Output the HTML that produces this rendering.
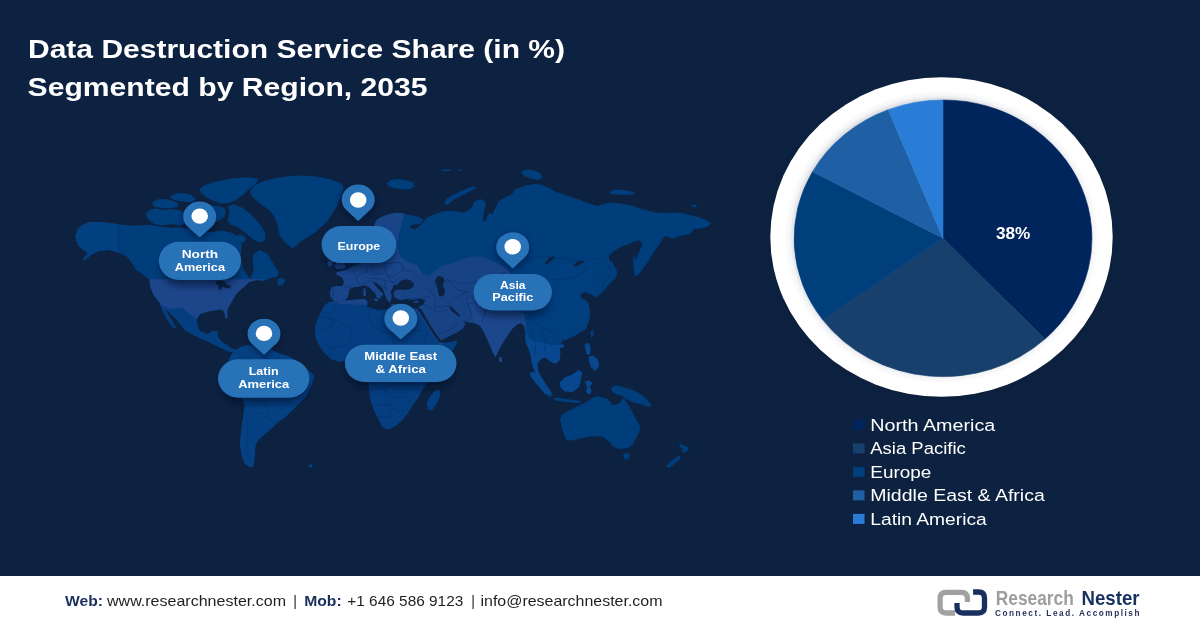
<!DOCTYPE html>
<html lang="en"><head><meta charset="utf-8">
<title>Data Destruction Service Share (in %) Segmented by Region, 2035</title>
<style>
html,body{margin:0;padding:0;}
body{width:1200px;height:628px;overflow:hidden;background:#0d2240;font-family:"Liberation Sans",sans-serif;}
svg{position:absolute;left:0;top:0;display:block}
text{font-family:"Liberation Sans",sans-serif;}
.ti{font-size:25.2px;font-weight:700;fill:#fff}
.pl{font-size:11.8px;font-weight:700;fill:#fff}
.lg{font-size:16.8px;fill:#fff}
.pc{font-size:16px;font-weight:700;fill:#fff}
.fb{font-size:14.1px;font-weight:700;fill:#1c2f5c}
.fr{font-size:14.1px;fill:#1f1f1f}
</style></head>
<body>
<svg width="1200" height="628" viewBox="0 0 1200 628">
<defs>
<clipPath id="land"><path d="M75.5,236.0 L77.5,229.5 L82.0,225.0 L88.0,222.5 L96.0,221.8 L110.0,223.0 L122.5,224.8 L135.0,225.8 L147.5,224.8 L158.8,226.3 L170.0,228.0 L180.0,227.5 L190.0,228.8 L200.0,231.3 L212.5,232.0 L222.5,230.5 L232.5,233.0 L238.8,238.0 L242.0,245.0 L240.5,257.5 L243.8,270.0 L250.0,278.8 L253.8,270.0 L252.5,260.0 L253.8,253.8 L260.0,250.0 L267.5,253.8 L272.5,262.5 L278.8,272.5 L277.0,277.0 L271.0,278.0 L264.0,281.0 L257.0,280.0 L249.0,282.0 L244.0,287.0 L238.0,292.0 L235.6,295.0 L230.6,303.6 L227.5,309.0 L227.3,318.5 L225.3,318.0 L224.2,311.5 L220.5,309.5 L210.5,311.0 L200.5,313.7 L197.0,318.7 L197.5,326.0 L200.0,331.0 L207.0,334.0 L213.0,331.0 L217.5,331.0 L217.8,337.0 L222.0,342.0 L227.0,345.0 L232.0,349.0 L236.0,350.0 L237.0,353.5 L230.0,351.8 L220.0,347.5 L207.5,341.5 L195.0,335.8 L185.0,330.5 L177.0,320.0 L168.7,312.0 L160.3,303.6 L153.6,295.3 L150.3,287.0 L149.5,279.4 L143.6,275.0 L136.0,270.0 L132.0,263.5 L127.0,256.8 L118.5,252.6 L108.5,250.0 L98.5,251.0 L91.0,255.0 L84.0,260.5 L83.0,258.5 L88.0,253.0 L85.0,251.0 L78.4,246.0 L76.0,240.0Z M160.0,304.0 L164.0,306.0 L168.0,314.0 L173.0,322.0 L176.0,328.0 L173.5,328.0 L168.0,321.0 L163.0,312.0Z M250.0,191.0 L254.0,186.0 L260.0,182.5 L270.0,179.5 L280.0,177.5 L290.0,176.0 L300.0,175.5 L312.0,176.0 L322.5,177.5 L332.0,180.0 L339.0,182.5 L343.5,185.5 L342.5,192.0 L339.5,199.0 L337.0,206.0 L332.0,214.0 L326.5,222.5 L320.0,228.0 L315.0,232.5 L308.0,237.0 L301.0,241.0 L296.0,246.0 L292.5,248.5 L288.0,245.0 L284.0,241.0 L280.0,236.0 L278.5,230.0 L277.0,223.0 L273.5,215.0 L268.0,209.0 L261.0,204.5 L255.0,199.5 L251.0,195.0Z M277.0,279.5 L282.0,277.5 L285.5,280.5 L283.0,285.0 L278.0,285.5Z M236.0,350.0 L241.0,347.0 L247.0,345.0 L255.0,345.5 L263.0,347.0 L272.0,350.0 L280.0,353.8 L288.0,356.0 L295.0,360.0 L303.0,366.0 L309.0,371.0 L313.8,375.5 L313.0,381.0 L311.0,386.0 L308.0,392.0 L305.0,397.5 L300.0,402.5 L292.5,410.0 L285.0,417.5 L278.0,422.0 L273.3,427.0 L268.5,431.0 L263.8,435.0 L258.3,439.8 L255.5,445.0 L255.0,452.0 L254.5,458.0 L254.0,463.0 L252.5,467.5 L248.0,466.0 L245.0,463.5 L242.5,458.0 L241.0,452.0 L240.0,442.5 L241.0,433.0 L242.0,425.0 L243.5,415.0 L244.5,405.0 L242.0,396.0 L237.0,388.0 L231.5,380.0 L228.0,372.0 L227.5,364.0 L230.0,357.0 L233.0,353.0Z M308.5,465.0 L312.0,464.5 L312.5,467.0 L309.0,467.5Z M325.0,305.0 L329.0,302.0 L336.5,301.5 L345.0,300.5 L355.0,299.8 L364.0,298.8 L367.5,301.0 L367.0,307.0 L373.0,309.0 L380.0,310.5 L387.0,309.0 L393.0,306.5 L400.0,306.0 L408.0,308.0 L417.0,308.8 L420.0,313.0 L424.0,320.0 L428.5,328.0 L432.5,335.0 L437.0,341.0 L443.0,343.0 L451.0,342.0 L457.0,340.5 L456.0,345.0 L451.5,352.0 L446.0,360.0 L441.0,368.0 L434.0,376.0 L428.0,382.0 L423.5,388.0 L421.0,392.0 L418.5,397.0 L415.0,401.5 L411.0,408.0 L407.0,414.0 L402.5,420.0 L395.0,426.0 L389.5,429.0 L385.0,428.8 L382.0,426.0 L380.0,422.0 L377.0,416.0 L373.8,410.0 L371.5,403.0 L370.0,397.5 L369.0,391.0 L368.8,385.0 L369.5,380.0 L367.5,374.0 L366.0,368.0 L365.5,363.0 L362.0,359.5 L355.0,359.0 L347.0,360.5 L339.0,361.5 L332.0,359.5 L326.0,354.5 L321.0,348.0 L317.0,341.0 L315.0,334.0 L315.5,326.0 L318.0,318.0 L321.5,311.0Z M428.0,409.0 L427.0,403.0 L429.5,397.0 L434.0,392.0 L438.5,389.5 L440.5,393.0 L438.5,400.0 L435.0,406.5 L431.5,410.5Z M372.0,233.0 L374.0,226.0 L376.0,220.7 L379.5,218.0 L383.9,216.0 L390.0,214.0 L396.6,212.8 L402.0,213.2 L407.8,214.4 L414.0,215.8 L420.5,217.5 L423.7,220.0 L421.0,223.5 L416.0,224.5 L411.0,225.0 L410.5,228.0 L414.5,229.5 L419.0,226.5 L423.0,222.5 L426.9,217.5 L434.0,214.5 L442.8,211.2 L449.0,211.0 L455.5,211.2 L460.0,212.2 L463.5,212.8 L468.0,210.5 L471.5,208.0 L473.2,204.5 L474.6,201.6 L478.0,199.8 L481.0,199.2 L484.0,200.8 L485.8,203.2 L484.8,208.5 L483.6,215.0 L482.6,220.7 L485.5,221.0 L487.4,215.5 L489.5,213.0 L492.2,214.4 L494.0,211.0 L495.4,208.0 L498.5,201.6 L504.0,198.0 L509.7,195.3 L513.0,193.3 L515.0,189.5 L520.0,187.5 L527.0,185.2 L535.0,183.8 L542.5,185.0 L548.0,187.5 L552.5,190.0 L557.0,192.5 L562.5,193.8 L571.0,197.0 L580.0,200.0 L589.0,203.5 L597.5,206.0 L604.0,204.0 L610.0,202.5 L620.0,203.5 L630.0,205.0 L642.0,209.0 L655.0,212.5 L668.0,213.0 L680.0,212.5 L690.0,215.0 L700.0,217.5 L706.0,220.0 L711.0,223.0 L708.5,226.0 L705.0,227.5 L700.0,228.5 L695.0,228.8 L692.0,231.5 L690.0,233.8 L685.0,235.2 L680.0,236.0 L676.0,237.8 L672.5,238.8 L668.5,237.0 L665.0,236.0 L663.0,238.5 L660.0,243.5 L655.0,250.0 L651.0,256.5 L647.5,262.5 L643.5,268.0 L640.0,272.5 L637.5,275.5 L635.3,276.5 L633.8,270.0 L634.5,264.0 L636.5,257.5 L639.5,251.5 L641.5,246.5 L642.0,243.0 L640.5,241.0 L638.5,240.5 L635.0,241.5 L630.0,243.8 L623.5,246.0 L617.5,248.8 L612.5,252.0 L608.8,256.0 L609.5,260.5 L612.0,262.0 L614.4,266.0 L616.5,270.0 L617.3,274.0 L615.0,279.0 L610.0,283.5 L606.0,288.0 L603.0,291.5 L599.0,295.0 L596.0,297.5 L593.5,296.0 L590.0,293.5 L585.0,292.0 L581.0,293.0 L580.0,296.0 L582.5,299.0 L586.0,300.5 L588.7,304.4 L589.5,309.5 L590.0,314.5 L589.0,320.0 L587.2,324.5 L586.0,329.0 L580.5,332.0 L575.0,335.5 L569.0,338.5 L562.5,340.5 L561.0,344.0 L560.0,349.0 L560.3,355.0 L559.5,360.0 L556.0,363.5 L552.0,362.5 L548.5,360.0 L545.5,357.5 L542.0,358.5 L539.0,361.0 L537.2,364.0 L537.8,369.0 L540.0,375.0 L543.0,379.5 L545.5,383.5 L543.5,384.5 L539.5,380.5 L536.0,374.5 L533.5,368.0 L531.5,361.5 L530.5,354.0 L528.0,347.5 L525.5,341.5 L525.0,333.0 L524.5,326.0 L520.5,323.0 L516.5,325.0 L512.5,328.5 L508.5,334.0 L504.5,340.0 L500.5,347.0 L497.5,353.0 L495.5,357.0 L493.0,353.0 L490.5,346.5 L487.5,340.0 L484.0,332.5 L480.5,326.0 L476.0,323.5 L470.0,322.5 L465.0,321.5 L460.5,319.0 L463.5,321.5 L465.5,324.0 L462.5,328.8 L457.5,332.0 L452.5,334.5 L447.5,337.0 L441.5,340.0 L436.5,341.8 L433.5,337.0 L430.5,331.0 L427.0,324.0 L423.5,316.5 L420.5,310.0 L418.8,306.5 L423.5,305.0 L425.4,300.0 L421.0,298.8 L414.0,299.5 L407.0,299.0 L400.0,299.8 L394.5,297.5 L393.5,293.0 L396.0,290.0 L400.0,289.5 L405.0,290.0 L410.0,289.3 L413.5,287.0 L414.0,283.5 L411.0,280.5 L406.5,279.3 L402.0,280.0 L399.0,282.5 L397.0,285.0 L393.5,285.0 L392.5,288.5 L390.5,291.5 L391.5,295.5 L391.0,299.5 L389.8,302.8 L387.5,300.0 L385.5,296.0 L384.0,292.0 L382.8,288.5 L380.0,285.5 L376.5,282.8 L373.3,281.8 L374.3,284.5 L377.3,287.8 L380.3,291.0 L383.3,294.3 L381.5,296.0 L379.5,298.8 L376.8,297.5 L375.5,293.8 L372.3,290.3 L369.0,287.3 L365.0,285.0 L361.0,286.0 L356.0,287.0 L352.0,287.5 L349.5,289.5 L348.5,293.5 L347.5,297.5 L344.0,300.5 L338.5,301.5 L333.5,300.5 L330.5,297.0 L330.0,291.0 L331.5,287.5 L337.0,286.0 L342.5,286.3 L344.0,282.0 L342.5,277.5 L336.5,274.5 L336.5,272.0 L342.0,271.0 L347.0,269.5 L351.5,267.0 L356.0,265.5 L361.0,263.5 L366.0,262.0 L369.5,256.0 L371.0,248.0 L371.5,240.0Z M334.5,266.0 L337.0,261.5 L336.0,256.5 L338.5,252.5 L342.5,254.0 L342.0,259.5 L345.0,263.5 L345.5,267.5 L341.0,269.0 L336.5,268.5Z M327.5,262.5 L330.5,260.0 L333.0,262.0 L332.0,266.0 L328.5,266.5Z M322.0,240.0 L327.0,237.5 L333.0,238.5 L335.0,242.0 L330.0,245.0 L324.0,244.5Z M387.0,183.0 L391.0,180.0 L398.0,179.0 L406.0,180.0 L413.0,182.5 L415.0,186.5 L409.0,189.5 L401.0,189.0 L393.0,188.0 L388.0,186.0Z M440.0,170.0 L446.0,169.2 L452.0,169.5 L450.0,171.0 L443.0,171.3Z M456.0,169.6 L462.0,170.0 L460.0,171.2Z M444.0,203.0 L447.0,198.5 L453.0,195.0 L460.0,191.5 L467.0,188.5 L474.0,186.0 L476.5,187.5 L471.0,191.0 L464.0,194.5 L457.0,198.0 L451.0,202.0 L447.0,205.0Z M521.0,172.0 L526.0,169.5 L533.0,170.0 L540.0,173.0 L542.5,177.5 L538.0,180.0 L531.0,178.5 L524.0,176.0Z M609.0,192.0 L615.0,189.5 L624.0,190.0 L632.0,191.5 L635.5,194.0 L628.0,195.0 L618.0,194.5 L611.0,194.0Z M690.0,205.5 L694.0,204.5 L698.0,206.0 L694.0,207.5Z M633.0,257.0 L635.0,256.5 L636.0,263.0 L636.5,270.0 L637.0,276.0 L635.0,276.5 L633.5,268.0Z M590.5,331.5 L593.0,330.0 L593.5,335.0 L591.5,338.0Z M560.0,345.0 L563.5,344.0 L564.0,347.5 L560.5,348.0Z M499.0,357.0 L501.5,357.5 L502.0,361.5 L499.5,362.0Z M530.0,372.5 L534.0,372.0 L539.0,377.0 L544.5,383.0 L549.5,389.0 L552.5,395.0 L550.0,397.5 L545.0,394.0 L540.0,388.0 L535.0,382.0 L531.0,377.0Z M553.0,398.0 L560.0,398.0 L568.0,399.3 L575.0,400.3 L580.5,401.0 L580.5,403.0 L573.0,402.8 L564.0,401.8 L555.0,400.5Z M559.8,382.5 L564.6,377.8 L572.5,374.6 L578.9,369.8 L582.1,373.0 L580.5,381.0 L578.9,387.3 L572.5,392.1 L564.6,391.3 L560.6,387.3Z M585.0,381.5 L589.5,380.5 L592.5,383.5 L589.5,386.0 L591.5,391.0 L589.5,395.0 L586.5,392.0 L587.0,387.0Z M584.5,344.0 L588.5,342.5 L590.5,348.0 L590.0,355.0 L586.5,354.0Z M588.5,357.0 L593.0,355.5 L598.0,360.0 L599.0,366.5 L595.0,371.0 L591.0,367.0 L589.5,362.0Z M611.0,388.0 L615.5,385.5 L621.0,386.5 L627.0,388.0 L633.0,390.0 L639.0,393.0 L645.0,397.5 L650.0,403.0 L651.5,406.5 L646.5,406.5 L640.0,404.0 L634.5,403.0 L629.0,400.5 L623.0,396.3 L617.0,394.5 L612.5,392.3Z M560.0,420.0 L561.5,415.5 L567.0,411.5 L575.0,407.5 L581.5,404.5 L587.5,401.3 L593.0,397.5 L597.5,396.2 L603.0,397.5 L607.5,398.8 L610.0,402.0 L612.5,405.0 L617.0,404.5 L620.5,402.5 L622.8,398.5 L624.3,398.0 L626.5,402.0 L630.0,407.5 L633.5,414.0 L636.3,420.0 L640.0,426.3 L639.5,432.0 L637.5,435.0 L635.0,440.0 L632.5,445.0 L628.0,448.0 L622.5,448.8 L617.5,448.8 L612.5,446.0 L610.0,442.5 L606.0,439.5 L603.8,437.5 L600.0,436.5 L597.5,436.3 L590.0,436.5 L585.0,437.5 L580.0,438.5 L575.0,440.0 L570.0,440.5 L566.3,440.0 L565.0,437.0 L563.8,433.8 L562.5,430.0 L561.3,425.0Z M623.5,453.8 L627.0,453.0 L630.0,455.0 L628.5,459.0 L625.0,459.5 L623.5,457.0Z M679.0,443.0 L681.5,444.5 L684.5,445.5 L689.0,447.5 L687.5,450.5 L685.0,453.0 L682.0,452.0 L682.5,449.0 L680.0,446.5Z M666.5,466.0 L670.0,462.0 L674.0,459.0 L678.5,455.5 L681.0,456.5 L679.0,460.0 L675.0,463.5 L671.0,466.5 L668.0,468.0Z M146.0,214.0 L149.0,210.0 L156.0,208.5 L164.0,210.0 L172.0,209.0 L180.0,210.5 L187.0,213.0 L190.0,218.0 L187.0,223.0 L180.0,225.5 L172.0,224.0 L163.0,225.5 L154.0,224.0 L148.0,219.5Z M152.0,203.0 L157.0,199.5 L165.0,199.0 L172.0,200.5 L178.0,203.0 L177.0,207.0 L170.0,208.5 L161.0,208.0 L154.0,206.5Z M170.0,196.5 L176.0,193.5 L184.0,193.0 L191.0,195.0 L196.0,198.5 L193.0,202.0 L186.0,202.0 L179.0,201.0 L173.0,199.5Z M199.6,189.0 L205.0,185.0 L215.6,181.7 L231.7,178.4 L247.7,177.3 L258.4,179.0 L256.0,184.0 L248.5,189.5 L243.0,195.0 L236.0,200.0 L229.0,203.0 L221.0,203.5 L213.0,200.5 L206.0,197.0 L201.0,193.0Z M193.0,206.5 L200.0,203.5 L208.0,204.0 L215.0,206.0 L222.0,207.0 L226.0,210.5 L224.5,216.5 L219.0,221.0 L211.0,222.5 L203.0,221.0 L196.0,217.0 L192.5,211.5Z M228.0,206.0 L234.0,204.5 L242.0,207.5 L249.0,212.5 L255.0,218.5 L261.0,225.5 L265.0,233.0 L265.5,239.5 L261.0,242.5 L255.0,240.5 L249.0,236.0 L243.0,231.0 L237.0,227.0 L231.5,225.0 L227.5,220.5 L229.5,213.0Z M236.0,236.0 L241.5,234.5 L246.0,238.0 L244.0,242.5 L238.0,242.5Z M374.5,298.5 L378.0,299.0 L377.5,301.5 L374.5,300.6Z M363.3,288.5 L365.5,288.5 L366.0,296.0 L363.5,296.0Z M391.0,304.0 L396.0,304.0 L396.0,305.3 L391.0,305.3Z M414.0,301.5 L418.0,300.5 L418.0,302.5 L414.5,303.0Z"/></clipPath>
<linearGradient id="usg" x1="0" y1="279" x2="0" y2="322" gradientUnits="userSpaceOnUse">
<stop offset="0" stop-color="#3567b1"/><stop offset="0.45" stop-color="#24599f"/><stop offset="1" stop-color="#1a529c"/></linearGradient>
<radialGradient id="ring" cx="0.5" cy="0.5" r="0.5">
<stop offset="0.86" stop-color="#d9dce2"/><stop offset="0.885" stop-color="#f4f5f7"/><stop offset="0.92" stop-color="#ffffff"/><stop offset="1" stop-color="#ffffff"/></radialGradient>
<filter id="psh" x="-30%" y="-30%" width="160%" height="190%"><feGaussianBlur stdDeviation="3.2"/></filter>
<filter id="sh" x="-10%" y="-10%" width="120%" height="120%"><feGaussianBlur stdDeviation="3"/></filter>
</defs>
<rect width="1200" height="628" fill="#0d2240"/>

<!-- world map -->
<g>
<path d="M75.5,236.0 L77.5,229.5 L82.0,225.0 L88.0,222.5 L96.0,221.8 L110.0,223.0 L122.5,224.8 L135.0,225.8 L147.5,224.8 L158.8,226.3 L170.0,228.0 L180.0,227.5 L190.0,228.8 L200.0,231.3 L212.5,232.0 L222.5,230.5 L232.5,233.0 L238.8,238.0 L242.0,245.0 L240.5,257.5 L243.8,270.0 L250.0,278.8 L253.8,270.0 L252.5,260.0 L253.8,253.8 L260.0,250.0 L267.5,253.8 L272.5,262.5 L278.8,272.5 L277.0,277.0 L271.0,278.0 L264.0,281.0 L257.0,280.0 L249.0,282.0 L244.0,287.0 L238.0,292.0 L235.6,295.0 L230.6,303.6 L227.5,309.0 L227.3,318.5 L225.3,318.0 L224.2,311.5 L220.5,309.5 L210.5,311.0 L200.5,313.7 L197.0,318.7 L197.5,326.0 L200.0,331.0 L207.0,334.0 L213.0,331.0 L217.5,331.0 L217.8,337.0 L222.0,342.0 L227.0,345.0 L232.0,349.0 L236.0,350.0 L237.0,353.5 L230.0,351.8 L220.0,347.5 L207.5,341.5 L195.0,335.8 L185.0,330.5 L177.0,320.0 L168.7,312.0 L160.3,303.6 L153.6,295.3 L150.3,287.0 L149.5,279.4 L143.6,275.0 L136.0,270.0 L132.0,263.5 L127.0,256.8 L118.5,252.6 L108.5,250.0 L98.5,251.0 L91.0,255.0 L84.0,260.5 L83.0,258.5 L88.0,253.0 L85.0,251.0 L78.4,246.0 L76.0,240.0Z M160.0,304.0 L164.0,306.0 L168.0,314.0 L173.0,322.0 L176.0,328.0 L173.5,328.0 L168.0,321.0 L163.0,312.0Z M250.0,191.0 L254.0,186.0 L260.0,182.5 L270.0,179.5 L280.0,177.5 L290.0,176.0 L300.0,175.5 L312.0,176.0 L322.5,177.5 L332.0,180.0 L339.0,182.5 L343.5,185.5 L342.5,192.0 L339.5,199.0 L337.0,206.0 L332.0,214.0 L326.5,222.5 L320.0,228.0 L315.0,232.5 L308.0,237.0 L301.0,241.0 L296.0,246.0 L292.5,248.5 L288.0,245.0 L284.0,241.0 L280.0,236.0 L278.5,230.0 L277.0,223.0 L273.5,215.0 L268.0,209.0 L261.0,204.5 L255.0,199.5 L251.0,195.0Z M277.0,279.5 L282.0,277.5 L285.5,280.5 L283.0,285.0 L278.0,285.5Z M236.0,350.0 L241.0,347.0 L247.0,345.0 L255.0,345.5 L263.0,347.0 L272.0,350.0 L280.0,353.8 L288.0,356.0 L295.0,360.0 L303.0,366.0 L309.0,371.0 L313.8,375.5 L313.0,381.0 L311.0,386.0 L308.0,392.0 L305.0,397.5 L300.0,402.5 L292.5,410.0 L285.0,417.5 L278.0,422.0 L273.3,427.0 L268.5,431.0 L263.8,435.0 L258.3,439.8 L255.5,445.0 L255.0,452.0 L254.5,458.0 L254.0,463.0 L252.5,467.5 L248.0,466.0 L245.0,463.5 L242.5,458.0 L241.0,452.0 L240.0,442.5 L241.0,433.0 L242.0,425.0 L243.5,415.0 L244.5,405.0 L242.0,396.0 L237.0,388.0 L231.5,380.0 L228.0,372.0 L227.5,364.0 L230.0,357.0 L233.0,353.0Z M308.5,465.0 L312.0,464.5 L312.5,467.0 L309.0,467.5Z M325.0,305.0 L329.0,302.0 L336.5,301.5 L345.0,300.5 L355.0,299.8 L364.0,298.8 L367.5,301.0 L367.0,307.0 L373.0,309.0 L380.0,310.5 L387.0,309.0 L393.0,306.5 L400.0,306.0 L408.0,308.0 L417.0,308.8 L420.0,313.0 L424.0,320.0 L428.5,328.0 L432.5,335.0 L437.0,341.0 L443.0,343.0 L451.0,342.0 L457.0,340.5 L456.0,345.0 L451.5,352.0 L446.0,360.0 L441.0,368.0 L434.0,376.0 L428.0,382.0 L423.5,388.0 L421.0,392.0 L418.5,397.0 L415.0,401.5 L411.0,408.0 L407.0,414.0 L402.5,420.0 L395.0,426.0 L389.5,429.0 L385.0,428.8 L382.0,426.0 L380.0,422.0 L377.0,416.0 L373.8,410.0 L371.5,403.0 L370.0,397.5 L369.0,391.0 L368.8,385.0 L369.5,380.0 L367.5,374.0 L366.0,368.0 L365.5,363.0 L362.0,359.5 L355.0,359.0 L347.0,360.5 L339.0,361.5 L332.0,359.5 L326.0,354.5 L321.0,348.0 L317.0,341.0 L315.0,334.0 L315.5,326.0 L318.0,318.0 L321.5,311.0Z M428.0,409.0 L427.0,403.0 L429.5,397.0 L434.0,392.0 L438.5,389.5 L440.5,393.0 L438.5,400.0 L435.0,406.5 L431.5,410.5Z M372.0,233.0 L374.0,226.0 L376.0,220.7 L379.5,218.0 L383.9,216.0 L390.0,214.0 L396.6,212.8 L402.0,213.2 L407.8,214.4 L414.0,215.8 L420.5,217.5 L423.7,220.0 L421.0,223.5 L416.0,224.5 L411.0,225.0 L410.5,228.0 L414.5,229.5 L419.0,226.5 L423.0,222.5 L426.9,217.5 L434.0,214.5 L442.8,211.2 L449.0,211.0 L455.5,211.2 L460.0,212.2 L463.5,212.8 L468.0,210.5 L471.5,208.0 L473.2,204.5 L474.6,201.6 L478.0,199.8 L481.0,199.2 L484.0,200.8 L485.8,203.2 L484.8,208.5 L483.6,215.0 L482.6,220.7 L485.5,221.0 L487.4,215.5 L489.5,213.0 L492.2,214.4 L494.0,211.0 L495.4,208.0 L498.5,201.6 L504.0,198.0 L509.7,195.3 L513.0,193.3 L515.0,189.5 L520.0,187.5 L527.0,185.2 L535.0,183.8 L542.5,185.0 L548.0,187.5 L552.5,190.0 L557.0,192.5 L562.5,193.8 L571.0,197.0 L580.0,200.0 L589.0,203.5 L597.5,206.0 L604.0,204.0 L610.0,202.5 L620.0,203.5 L630.0,205.0 L642.0,209.0 L655.0,212.5 L668.0,213.0 L680.0,212.5 L690.0,215.0 L700.0,217.5 L706.0,220.0 L711.0,223.0 L708.5,226.0 L705.0,227.5 L700.0,228.5 L695.0,228.8 L692.0,231.5 L690.0,233.8 L685.0,235.2 L680.0,236.0 L676.0,237.8 L672.5,238.8 L668.5,237.0 L665.0,236.0 L663.0,238.5 L660.0,243.5 L655.0,250.0 L651.0,256.5 L647.5,262.5 L643.5,268.0 L640.0,272.5 L637.5,275.5 L635.3,276.5 L633.8,270.0 L634.5,264.0 L636.5,257.5 L639.5,251.5 L641.5,246.5 L642.0,243.0 L640.5,241.0 L638.5,240.5 L635.0,241.5 L630.0,243.8 L623.5,246.0 L617.5,248.8 L612.5,252.0 L608.8,256.0 L609.5,260.5 L612.0,262.0 L614.4,266.0 L616.5,270.0 L617.3,274.0 L615.0,279.0 L610.0,283.5 L606.0,288.0 L603.0,291.5 L599.0,295.0 L596.0,297.5 L593.5,296.0 L590.0,293.5 L585.0,292.0 L581.0,293.0 L580.0,296.0 L582.5,299.0 L586.0,300.5 L588.7,304.4 L589.5,309.5 L590.0,314.5 L589.0,320.0 L587.2,324.5 L586.0,329.0 L580.5,332.0 L575.0,335.5 L569.0,338.5 L562.5,340.5 L561.0,344.0 L560.0,349.0 L560.3,355.0 L559.5,360.0 L556.0,363.5 L552.0,362.5 L548.5,360.0 L545.5,357.5 L542.0,358.5 L539.0,361.0 L537.2,364.0 L537.8,369.0 L540.0,375.0 L543.0,379.5 L545.5,383.5 L543.5,384.5 L539.5,380.5 L536.0,374.5 L533.5,368.0 L531.5,361.5 L530.5,354.0 L528.0,347.5 L525.5,341.5 L525.0,333.0 L524.5,326.0 L520.5,323.0 L516.5,325.0 L512.5,328.5 L508.5,334.0 L504.5,340.0 L500.5,347.0 L497.5,353.0 L495.5,357.0 L493.0,353.0 L490.5,346.5 L487.5,340.0 L484.0,332.5 L480.5,326.0 L476.0,323.5 L470.0,322.5 L465.0,321.5 L460.5,319.0 L463.5,321.5 L465.5,324.0 L462.5,328.8 L457.5,332.0 L452.5,334.5 L447.5,337.0 L441.5,340.0 L436.5,341.8 L433.5,337.0 L430.5,331.0 L427.0,324.0 L423.5,316.5 L420.5,310.0 L418.8,306.5 L423.5,305.0 L425.4,300.0 L421.0,298.8 L414.0,299.5 L407.0,299.0 L400.0,299.8 L394.5,297.5 L393.5,293.0 L396.0,290.0 L400.0,289.5 L405.0,290.0 L410.0,289.3 L413.5,287.0 L414.0,283.5 L411.0,280.5 L406.5,279.3 L402.0,280.0 L399.0,282.5 L397.0,285.0 L393.5,285.0 L392.5,288.5 L390.5,291.5 L391.5,295.5 L391.0,299.5 L389.8,302.8 L387.5,300.0 L385.5,296.0 L384.0,292.0 L382.8,288.5 L380.0,285.5 L376.5,282.8 L373.3,281.8 L374.3,284.5 L377.3,287.8 L380.3,291.0 L383.3,294.3 L381.5,296.0 L379.5,298.8 L376.8,297.5 L375.5,293.8 L372.3,290.3 L369.0,287.3 L365.0,285.0 L361.0,286.0 L356.0,287.0 L352.0,287.5 L349.5,289.5 L348.5,293.5 L347.5,297.5 L344.0,300.5 L338.5,301.5 L333.5,300.5 L330.5,297.0 L330.0,291.0 L331.5,287.5 L337.0,286.0 L342.5,286.3 L344.0,282.0 L342.5,277.5 L336.5,274.5 L336.5,272.0 L342.0,271.0 L347.0,269.5 L351.5,267.0 L356.0,265.5 L361.0,263.5 L366.0,262.0 L369.5,256.0 L371.0,248.0 L371.5,240.0Z M334.5,266.0 L337.0,261.5 L336.0,256.5 L338.5,252.5 L342.5,254.0 L342.0,259.5 L345.0,263.5 L345.5,267.5 L341.0,269.0 L336.5,268.5Z M327.5,262.5 L330.5,260.0 L333.0,262.0 L332.0,266.0 L328.5,266.5Z M322.0,240.0 L327.0,237.5 L333.0,238.5 L335.0,242.0 L330.0,245.0 L324.0,244.5Z M387.0,183.0 L391.0,180.0 L398.0,179.0 L406.0,180.0 L413.0,182.5 L415.0,186.5 L409.0,189.5 L401.0,189.0 L393.0,188.0 L388.0,186.0Z M440.0,170.0 L446.0,169.2 L452.0,169.5 L450.0,171.0 L443.0,171.3Z M456.0,169.6 L462.0,170.0 L460.0,171.2Z M444.0,203.0 L447.0,198.5 L453.0,195.0 L460.0,191.5 L467.0,188.5 L474.0,186.0 L476.5,187.5 L471.0,191.0 L464.0,194.5 L457.0,198.0 L451.0,202.0 L447.0,205.0Z M521.0,172.0 L526.0,169.5 L533.0,170.0 L540.0,173.0 L542.5,177.5 L538.0,180.0 L531.0,178.5 L524.0,176.0Z M609.0,192.0 L615.0,189.5 L624.0,190.0 L632.0,191.5 L635.5,194.0 L628.0,195.0 L618.0,194.5 L611.0,194.0Z M690.0,205.5 L694.0,204.5 L698.0,206.0 L694.0,207.5Z M633.0,257.0 L635.0,256.5 L636.0,263.0 L636.5,270.0 L637.0,276.0 L635.0,276.5 L633.5,268.0Z M590.5,331.5 L593.0,330.0 L593.5,335.0 L591.5,338.0Z M560.0,345.0 L563.5,344.0 L564.0,347.5 L560.5,348.0Z M499.0,357.0 L501.5,357.5 L502.0,361.5 L499.5,362.0Z M530.0,372.5 L534.0,372.0 L539.0,377.0 L544.5,383.0 L549.5,389.0 L552.5,395.0 L550.0,397.5 L545.0,394.0 L540.0,388.0 L535.0,382.0 L531.0,377.0Z M553.0,398.0 L560.0,398.0 L568.0,399.3 L575.0,400.3 L580.5,401.0 L580.5,403.0 L573.0,402.8 L564.0,401.8 L555.0,400.5Z M559.8,382.5 L564.6,377.8 L572.5,374.6 L578.9,369.8 L582.1,373.0 L580.5,381.0 L578.9,387.3 L572.5,392.1 L564.6,391.3 L560.6,387.3Z M585.0,381.5 L589.5,380.5 L592.5,383.5 L589.5,386.0 L591.5,391.0 L589.5,395.0 L586.5,392.0 L587.0,387.0Z M584.5,344.0 L588.5,342.5 L590.5,348.0 L590.0,355.0 L586.5,354.0Z M588.5,357.0 L593.0,355.5 L598.0,360.0 L599.0,366.5 L595.0,371.0 L591.0,367.0 L589.5,362.0Z M611.0,388.0 L615.5,385.5 L621.0,386.5 L627.0,388.0 L633.0,390.0 L639.0,393.0 L645.0,397.5 L650.0,403.0 L651.5,406.5 L646.5,406.5 L640.0,404.0 L634.5,403.0 L629.0,400.5 L623.0,396.3 L617.0,394.5 L612.5,392.3Z M560.0,420.0 L561.5,415.5 L567.0,411.5 L575.0,407.5 L581.5,404.5 L587.5,401.3 L593.0,397.5 L597.5,396.2 L603.0,397.5 L607.5,398.8 L610.0,402.0 L612.5,405.0 L617.0,404.5 L620.5,402.5 L622.8,398.5 L624.3,398.0 L626.5,402.0 L630.0,407.5 L633.5,414.0 L636.3,420.0 L640.0,426.3 L639.5,432.0 L637.5,435.0 L635.0,440.0 L632.5,445.0 L628.0,448.0 L622.5,448.8 L617.5,448.8 L612.5,446.0 L610.0,442.5 L606.0,439.5 L603.8,437.5 L600.0,436.5 L597.5,436.3 L590.0,436.5 L585.0,437.5 L580.0,438.5 L575.0,440.0 L570.0,440.5 L566.3,440.0 L565.0,437.0 L563.8,433.8 L562.5,430.0 L561.3,425.0Z M623.5,453.8 L627.0,453.0 L630.0,455.0 L628.5,459.0 L625.0,459.5 L623.5,457.0Z M679.0,443.0 L681.5,444.5 L684.5,445.5 L689.0,447.5 L687.5,450.5 L685.0,453.0 L682.0,452.0 L682.5,449.0 L680.0,446.5Z M666.5,466.0 L670.0,462.0 L674.0,459.0 L678.5,455.5 L681.0,456.5 L679.0,460.0 L675.0,463.5 L671.0,466.5 L668.0,468.0Z M146.0,214.0 L149.0,210.0 L156.0,208.5 L164.0,210.0 L172.0,209.0 L180.0,210.5 L187.0,213.0 L190.0,218.0 L187.0,223.0 L180.0,225.5 L172.0,224.0 L163.0,225.5 L154.0,224.0 L148.0,219.5Z M152.0,203.0 L157.0,199.5 L165.0,199.0 L172.0,200.5 L178.0,203.0 L177.0,207.0 L170.0,208.5 L161.0,208.0 L154.0,206.5Z M170.0,196.5 L176.0,193.5 L184.0,193.0 L191.0,195.0 L196.0,198.5 L193.0,202.0 L186.0,202.0 L179.0,201.0 L173.0,199.5Z M199.6,189.0 L205.0,185.0 L215.6,181.7 L231.7,178.4 L247.7,177.3 L258.4,179.0 L256.0,184.0 L248.5,189.5 L243.0,195.0 L236.0,200.0 L229.0,203.0 L221.0,203.5 L213.0,200.5 L206.0,197.0 L201.0,193.0Z M193.0,206.5 L200.0,203.5 L208.0,204.0 L215.0,206.0 L222.0,207.0 L226.0,210.5 L224.5,216.5 L219.0,221.0 L211.0,222.5 L203.0,221.0 L196.0,217.0 L192.5,211.5Z M228.0,206.0 L234.0,204.5 L242.0,207.5 L249.0,212.5 L255.0,218.5 L261.0,225.5 L265.0,233.0 L265.5,239.5 L261.0,242.5 L255.0,240.5 L249.0,236.0 L243.0,231.0 L237.0,227.0 L231.5,225.0 L227.5,220.5 L229.5,213.0Z M236.0,236.0 L241.5,234.5 L246.0,238.0 L244.0,242.5 L238.0,242.5Z M374.5,298.5 L378.0,299.0 L377.5,301.5 L374.5,300.6Z M363.3,288.5 L365.5,288.5 L366.0,296.0 L363.5,296.0Z M391.0,304.0 L396.0,304.0 L396.0,305.3 L391.0,305.3Z M414.0,301.5 L418.0,300.5 L418.0,302.5 L414.5,303.0Z" fill="#003d7b"/>
<g clip-path="url(#land)">
<path d="M60.0,200.0 L118.3,200.0 L118.3,270.0 L60.0,270.0Z" fill="#02407f"/>
<path d="M140.0,279.2 L214.0,279.2 L232.0,279.2 L262.0,279.2 L262.0,300.0 L236.0,322.0 L203.0,322.0 L194.6,317.8 L186.0,311.4 L182.0,308.0 L170.0,309.0 L160.0,305.0 L140.0,300.0Z" fill="#1d4589"/>
<path d="M150.0,300.0 L170.0,309.0 L182.0,308.0 L186.0,311.4 L194.6,317.8 L203.0,322.0 L236.0,322.0 L262.0,300.0 L262.0,352.0 L150.0,352.0Z" fill="#053e7f"/>
<path d="M220.0,340.0 L330.0,340.0 L330.0,480.0 L220.0,480.0Z" fill="#054182"/>
<path d="M300.0,296.0 L470.0,296.0 L470.0,440.0 L300.0,440.0Z" fill="#043e80"/>
<path d="M346.0,205.0 L395.0,205.0 L405.0,211.0 L402.0,222.0 L399.5,232.0 L397.0,245.0 L400.0,256.0 L408.0,262.0 L417.0,265.0 L422.0,273.0 L420.5,279.0 L412.0,277.0 L400.0,277.0 L392.0,284.0 L392.0,300.0 L395.0,306.0 L340.0,304.0 L318.0,300.0 L318.0,250.0 L346.0,250.0Z" fill="#1a4488"/>
<path d="M420.5,279.0 L422.0,273.0 L428.0,276.0 L433.4,271.8 L443.5,265.0 L456.9,261.7 L466.9,257.6 L480.3,255.9 L490.3,260.0 L500.3,265.0 L507.0,268.4 L512.0,276.0 L516.0,286.0 L522.0,297.0 L520.0,300.0 L500.0,310.0 L470.0,330.0 L440.0,345.0 L415.0,310.0 L392.0,300.0 L392.0,284.0 L400.0,277.0 L412.0,277.0Z" fill="#174385"/>
<path d="M468.0,300.0 L520.0,300.0 L524.0,312.0 L526.0,322.0 L526.0,330.0 L500.0,365.0 L480.0,340.0Z" fill="#1c478c"/>
<path d="M507.0,268.4 L540.0,266.0 L590.0,262.0 L600.0,300.0 L620.0,310.0 L600.0,345.0 L555.0,345.0 L530.0,340.0 L526.0,330.0 L526.0,322.0 L524.0,312.0 L522.0,297.0 L516.0,286.0 L512.0,276.0Z" fill="#003e7d"/>
<path d="M526.0,330.0 L530.0,340.0 L555.0,345.0 L600.0,345.0 L600.0,394.0 L520.0,394.0Z" fill="#08468d"/>
<path d="M338.0,302.0 L334.0,310.0 L328.0,314.0 M318.0,318.0 L332.0,318.0 L332.0,326.0 M332.0,318.0 L345.0,326.0 L352.0,330.0 M368.0,308.0 L370.0,320.0 L375.0,328.0 M400.0,306.0 L400.0,330.0 M400.0,330.0 L428.0,330.0 M375.0,328.0 L388.0,334.0 L400.0,330.0 M352.0,330.0 L352.0,342.0 L345.0,345.0 M352.0,346.0 L375.0,347.0 M392.0,334.0 L394.0,352.0 M428.0,330.0 L424.0,345.0 L430.0,356.0 M332.0,326.0 L320.0,330.0 M345.0,345.0 L334.0,348.0 L330.0,356.0 M334.0,348.0 L322.0,343.0 M375.0,347.0 L378.0,358.0 M371.0,405.0 L392.0,405.0 L392.0,398.0 M392.0,398.0 L408.0,396.0 M378.0,417.0 L390.0,417.0 L390.0,408.0 L400.0,412.0 L408.0,408.0 M408.0,396.0 L412.0,408.0 L408.0,416.0 M370.0,388.0 L385.0,388.0 L388.0,398.0 M410.0,384.0 L420.0,392.0 M385.0,388.0 L396.0,384.0 L410.0,384.0 M248.0,398.0 L256.0,402.0 L262.0,400.0 M250.0,412.0 L262.0,414.0 L270.0,420.0 L276.0,424.0 M246.0,412.0 L248.0,430.0 L246.0,450.0 L250.0,462.0 M272.0,428.0 L266.0,432.0 M262.0,400.0 L268.0,410.0 L270.0,420.0 M236.0,352.0 L242.0,358.0 L250.0,356.0 M262.0,349.0 L264.0,358.0 L272.0,360.0 L280.0,356.0 M232.0,364.0 L240.0,366.0 L246.0,374.0 M344.0,286.5 L352.0,287.5 M333.0,288.0 L333.5,300.0 M352.0,270.0 L356.0,276.0 L358.0,283.0 L362.0,285.5 M372.0,264.0 L373.0,273.0 M384.0,266.0 L386.0,274.0 L392.0,277.0 M362.0,284.0 L370.0,281.0 L374.0,282.0 M376.0,278.0 L384.0,280.0 L392.0,282.0 M380.0,286.0 L388.0,288.0 M386.0,274.0 L392.0,282.0 L397.0,284.0 M384.0,264.0 L400.0,262.0 M366.0,272.0 L376.0,276.0 L380.0,272.0 M366.0,278.0 L378.0,279.0 M356.0,276.0 L366.0,272.0 L368.0,266.0 M373.0,273.0 L384.0,274.0 M400.0,262.0 L404.0,270.0 L412.0,272.0 L420.0,279.0 M392.0,277.0 L404.0,270.0 M407.0,299.0 L422.0,298.0 L430.0,296.0 M384.0,280.0 L386.0,290.0 M436.0,284.0 L448.0,280.0 L462.0,284.0 L476.0,282.0 L490.0,278.0 L506.0,272.0 M448.0,280.0 L458.0,290.0 L470.0,292.0 M430.0,290.0 L436.0,300.0 L434.0,308.0 L448.0,306.0 M466.0,292.0 L468.0,304.0 L472.0,316.0 L466.0,322.0 M468.0,304.0 L480.0,300.0 L490.0,294.0 M424.0,305.0 L438.0,312.0 L448.0,310.0 M436.0,334.0 L450.0,330.0 L460.0,322.0 M482.0,322.0 L486.0,310.0 L494.0,300.0 M494.0,300.0 L506.0,308.0 L520.0,312.0 L527.0,312.0 M520.0,262.0 L540.0,256.0 L562.0,258.0 L584.0,262.0 L588.0,270.0 L572.0,278.0 L550.0,280.0 L530.0,276.0 L520.0,268.0 M588.0,262.0 L596.0,258.0 L606.0,262.0 L612.0,272.0 L604.0,282.0 L602.0,290.0 M527.0,318.0 L540.0,326.0 L552.0,332.0 L560.0,340.0 M532.0,330.0 L536.0,345.0 L534.0,356.0 M540.0,330.0 L546.0,342.0 L552.0,346.0 M546.0,342.0 L544.0,352.0 M476.0,282.0 L490.0,294.0 M422.0,288.0 L430.0,290.0 L436.0,287.0 M448.0,306.0 L452.0,300.0 L466.0,292.0 M520.0,300.0 L516.0,312.0 M118.3,222.5 L118.3,248.0 L124.0,254.0 M222.0,343.0 L226.0,347.0 M212.0,338.0 L216.0,342.0" fill="none" stroke="#052c63" stroke-width="0.8" stroke-opacity="0.55" stroke-linejoin="round"/>
</g>
<path d="M436.0,277.5 L439.5,276.0 L443.5,277.5 L444.5,281.5 L442.5,285.0 L444.5,289.0 L445.0,293.5 L442.5,296.5 L439.0,296.0 L438.0,291.5 L437.0,286.5 L435.0,282.0Z M215.5,281.0 L220.0,280.0 L224.5,281.5 L227.0,284.5 L231.0,286.0 L230.0,288.5 L226.0,288.0 L222.0,286.5 L221.0,289.5 L218.5,290.0 L218.5,285.5 L216.0,284.0Z M573.5,265.5 L577.0,262.0 L583.0,260.0 L584.0,262.0 L579.0,265.0 L575.0,267.0Z M419.3,309.8 L421.2,309.0 L426.2,317.8 L431.2,326.6 L436.2,334.6 L441.6,341.0 L440.2,342.8 L434.8,336.6 L429.8,328.6 L424.8,319.6Z M449.0,306.8 L450.8,306.0 L454.5,310.0 L459.0,314.0 L460.5,316.8 L458.5,316.5 L454.0,313.0 L450.5,309.8Z M545.0,263.0 L549.0,258.0 L554.0,256.0 L554.6,258.0 L550.0,262.0 L546.5,264.6Z" fill="#0d2240"/>
</g>

<!-- pins -->
<g fill="#020f2c" opacity="0.55" filter="url(#psh)">
<path d="M188.21,227.27 A16.5,15.0 0 1 1 211.19,227.27 L201.08,236.18 Q199.70,238.00 198.32,236.18Z" transform="translate(0,3)"/>
<rect x="160.8" y="247.7" width="78.3" height="38.2" rx="19.1"/>
<path d="M346.33,210.02 A16.5,15.0 0 1 1 370.07,210.02 L359.62,219.86 Q358.20,221.80 356.78,219.86Z" transform="translate(0,3)"/>
<rect x="323.5" y="232.0" width="70.8" height="37.1" rx="18.6"/>
<path d="M500.93,257.71 A16.5,15.0 0 1 1 524.47,257.71 L514.11,267.29 Q512.70,269.20 511.29,267.29Z" transform="translate(0,3)"/>
<rect x="475.6" y="279.9" width="74.3" height="36.6" rx="18.3"/>
<path d="M389.43,329.57 A16.5,15.0 0 1 1 412.17,329.57 L402.16,338.22 Q400.80,340.00 399.44,338.22Z" transform="translate(0,3)"/>
<rect x="346.9" y="350.8" width="107.6" height="37.2" rx="18.6"/>
<path d="M252.40,344.36 A16.5,15.0 0 1 1 275.60,344.36 L265.39,353.55 Q264.00,355.40 262.61,353.55Z" transform="translate(0,3)"/>
<rect x="220.0" y="365.3" width="87.4" height="38.4" rx="19.2"/>
</g>
<path d="M188.21,227.27 A16.5,15.0 0 1 1 211.19,227.27 L201.08,236.18 Q199.70,238.00 198.32,236.18Z" fill="#2872b8"/>
<ellipse cx="199.7" cy="216.1" rx="8.3" ry="7.7" fill="#fff"/>
<rect x="158.8" y="241.7" width="82.3" height="38.2" rx="20.1" ry="19.1" fill="#2872b8"/>
<text x="199.9" y="257.6" text-anchor="middle" textLength="36.5" lengthAdjust="spacingAndGlyphs" class="pl">North</text>
<text x="199.9" y="270.9" text-anchor="middle" textLength="50.1" lengthAdjust="spacingAndGlyphs" class="pl">America</text>
<path d="M346.33,210.02 A16.5,15.0 0 1 1 370.07,210.02 L359.62,219.86 Q358.20,221.80 356.78,219.86Z" fill="#2872b8"/>
<ellipse cx="358.2" cy="200.0" rx="8.3" ry="7.7" fill="#fff"/>
<rect x="321.5" y="226.0" width="74.8" height="37.1" rx="19.5" ry="18.6" fill="#2872b8"/>
<text x="358.9" y="249.6" text-anchor="middle" textLength="42.7" lengthAdjust="spacingAndGlyphs" class="pl">Europe</text>
<path d="M500.93,257.71 A16.5,15.0 0 1 1 524.47,257.71 L514.11,267.29 Q512.70,269.20 511.29,267.29Z" fill="#2872b8"/>
<ellipse cx="512.7" cy="246.8" rx="8.3" ry="7.7" fill="#fff"/>
<rect x="473.6" y="273.9" width="78.3" height="36.6" rx="19.2" ry="18.3" fill="#2872b8"/>
<text x="512.8" y="288.5" text-anchor="middle" textLength="25.5" lengthAdjust="spacingAndGlyphs" class="pl">Asia</text>
<text x="512.8" y="301.4" text-anchor="middle" textLength="41.0" lengthAdjust="spacingAndGlyphs" class="pl">Pacific</text>
<path d="M389.43,329.57 A16.5,15.0 0 1 1 412.17,329.57 L402.16,338.22 Q400.80,340.00 399.44,338.22Z" fill="#2872b8"/>
<ellipse cx="400.8" cy="318.0" rx="8.3" ry="7.7" fill="#fff"/>
<rect x="344.9" y="344.8" width="111.6" height="37.2" rx="19.5" ry="18.6" fill="#2872b8"/>
<text x="400.7" y="359.7" text-anchor="middle" textLength="72.9" lengthAdjust="spacingAndGlyphs" class="pl">Middle East</text>
<text x="400.7" y="372.7" text-anchor="middle" textLength="50.5" lengthAdjust="spacingAndGlyphs" class="pl">&amp; Africa</text>
<path d="M252.40,344.36 A16.5,15.0 0 1 1 275.60,344.36 L265.39,353.55 Q264.00,355.40 262.61,353.55Z" fill="#2872b8"/>
<ellipse cx="264.0" cy="333.4" rx="8.3" ry="7.7" fill="#fff"/>
<rect x="218.0" y="359.3" width="91.4" height="38.4" rx="20.2" ry="19.2" fill="#2872b8"/>
<text x="263.7" y="374.7" text-anchor="middle" textLength="30.0" lengthAdjust="spacingAndGlyphs" class="pl">Latin</text>
<text x="263.7" y="387.7" text-anchor="middle" textLength="51.0" lengthAdjust="spacingAndGlyphs" class="pl">America</text>


<!-- title -->
<text x="28" y="57.5" class="ti" textLength="537" lengthAdjust="spacingAndGlyphs">Data Destruction Service Share (in %)</text>
<text x="27.6" y="96.2" class="ti" textLength="400" lengthAdjust="spacingAndGlyphs">Segmented by Region, 2035</text>

<!-- pie -->
<ellipse cx="941.5" cy="239" rx="172" ry="161" fill="#081732" opacity="0.25" filter="url(#sh)"/>
<ellipse cx="941.5" cy="237" rx="171.2" ry="159.8" fill="url(#ring)"/>
<path d="M943.0,238.3 L943.00,100.00 A148.9,138.3 0 0 1 1044.93,339.12Z" fill="#00245c" stroke="#00245c" stroke-width="0.6"/>
<path d="M943.0,238.3 L1044.93,339.12 A148.9,138.3 0 0 1 822.54,319.59Z" fill="#17406d" stroke="#17406d" stroke-width="0.6"/>
<path d="M943.0,238.3 L822.54,319.59 A148.9,138.3 0 0 1 812.52,171.67Z" fill="#003e7c" stroke="#003e7c" stroke-width="0.6"/>
<path d="M943.0,238.3 L812.52,171.67 A148.9,138.3 0 0 1 888.19,109.71Z" fill="#1f5fa3" stroke="#1f5fa3" stroke-width="0.6"/>
<path d="M943.0,238.3 L888.19,109.71 A148.9,138.3 0 0 1 943.00,100.00Z" fill="#2a7dd6" stroke="#2a7dd6" stroke-width="0.6"/>

<text x="1013.2" y="239" text-anchor="middle" class="pc" textLength="34.3" lengthAdjust="spacingAndGlyphs">38%</text>

<!-- legend -->
<rect x="853" y="419.9" width="11.5" height="10" fill="#00245c"/>
<text x="870.3" y="430.5" textLength="125.0" lengthAdjust="spacingAndGlyphs" class="lg">North America</text>
<rect x="853" y="443.4" width="11.5" height="10" fill="#17406d"/>
<text x="870.3" y="454.0" textLength="95.5" lengthAdjust="spacingAndGlyphs" class="lg">Asia Pacific</text>
<rect x="853" y="466.9" width="11.5" height="10" fill="#003e7c"/>
<text x="870.3" y="477.5" textLength="61.0" lengthAdjust="spacingAndGlyphs" class="lg">Europe</text>
<rect x="853" y="490.4" width="11.5" height="10" fill="#1f5fa3"/>
<text x="870.3" y="501.0" textLength="174.5" lengthAdjust="spacingAndGlyphs" class="lg">Middle East &amp; Africa</text>
<rect x="853" y="513.9" width="11.5" height="10" fill="#2a7dd6"/>
<text x="870.3" y="524.5" textLength="116.5" lengthAdjust="spacingAndGlyphs" class="lg">Latin America</text>


<!-- footer -->
<rect x="0" y="576" width="1200" height="52" fill="#fff"/>
<text x="65" y="606.4" class="fb" textLength="38" lengthAdjust="spacingAndGlyphs">Web:</text>
<text x="107" y="606.4" class="fr" textLength="179" lengthAdjust="spacingAndGlyphs">www.researchnester.com</text>
<text x="293.3" y="606.4" class="fr">|</text>
<text x="304.2" y="606.4" class="fb" textLength="37.5" lengthAdjust="spacingAndGlyphs">Mob:</text>
<text x="347.3" y="606.4" class="fr" textLength="116" lengthAdjust="spacingAndGlyphs">+1 646 586 9123</text>
<text x="471.3" y="606.4" class="fr">|</text>
<text x="480.5" y="606.4" class="fr" textLength="182" lengthAdjust="spacingAndGlyphs">info@researchnester.com</text>

<!-- logo -->
<g fill="none" stroke-width="5.3" stroke-linejoin="round">
<path d="M967.4,601.9 V598.4 Q967.4,592.4 961.4,592.4 H946.1 Q940.1,592.4 940.1,598.4 V607 Q940.1,613 946.1,613 H955" stroke="#a1a1a1"/>
<path d="M957,603.1 V607 Q957,613 963,613 H978.5 Q984.5,613 984.5,607 V598 Q984.5,592 978.5,592 H973.1" stroke="#17305e"/>
</g>
<text x="995.8" y="605" font-size="20.2" font-weight="700" fill="#9d9d9d" textLength="78" lengthAdjust="spacingAndGlyphs">Research</text>
<text x="1081.5" y="605" font-size="20.2" font-weight="700" fill="#17305e" textLength="58" lengthAdjust="spacingAndGlyphs">Nester</text>
<text x="995" y="616.2" font-size="8.2" font-weight="700" fill="#27305c" textLength="144.5" lengthAdjust="spacing">Connect. Lead. Accomplish</text>
</svg>
</body></html>
